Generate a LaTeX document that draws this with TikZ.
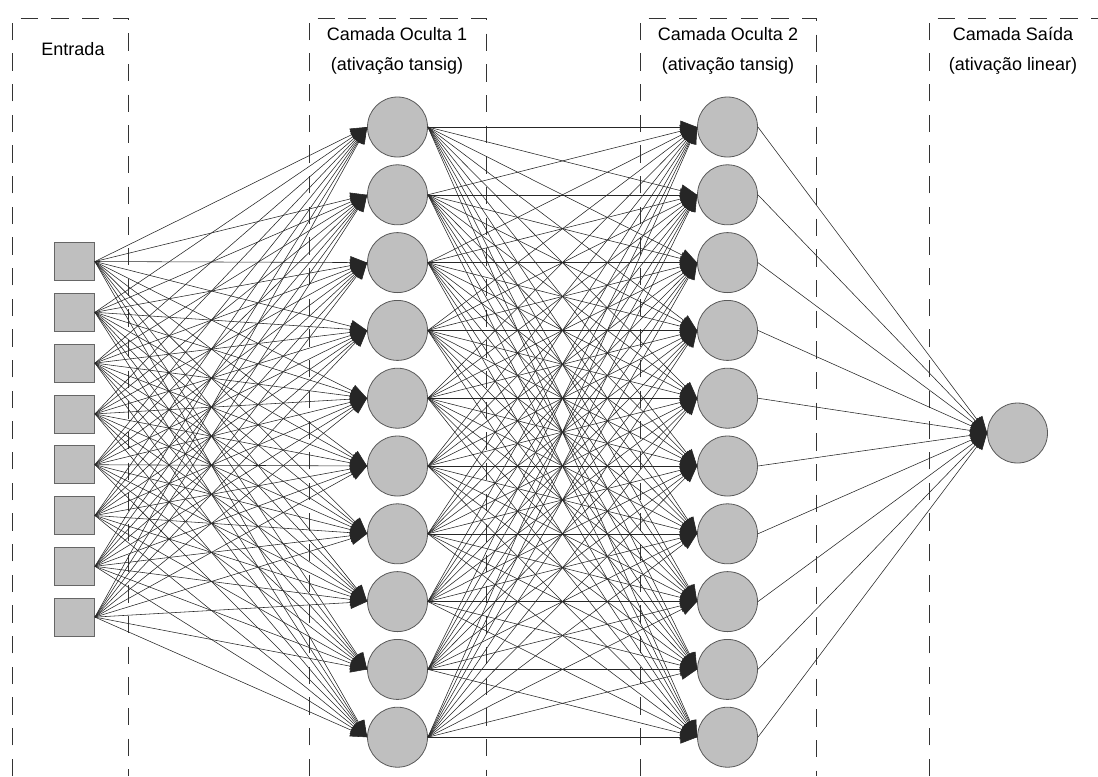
\documentclass[tikz,border=0pt]{standalone}
\usepackage{fontspec}
\setmainfont{Liberation Sans}
\usetikzlibrary{arrows.meta}

\tikzset{
	camada/.style = {
		draw = black!80,
		line width = 0.7pt,
		dash pattern = on 13pt off 10pt,
	},
	quadrado/.style = {
		draw = black!60,
		fill = gray!50,
		line width = 0.6pt,
		minimum width = 30pt,
		minimum height = 28.5pt,
		inner sep = 0pt,
	},
	neuronio/.style = {
		circle,
		draw = black!65,
		fill = gray!50,
		line width = 0.6pt,
		minimum size = 45pt,
		inner sep = 0pt,
	},
	peso/.style = {
		draw = black!85,
		line width = 0.42pt,
		-{Triangle[length = 12.5pt, width = 9.5pt]},
	},
	titulo/.style = {
		align = center,
		font = \fontsize{13.5}{22.5}\selectfont,
	},
}

\begin{document}
\begin{tikzpicture}[x = 0.75pt, y = -0.75pt]
	
	\useasboundingbox (0,0) rectangle (1098,776);
	
	% caixas das camadas
	\draw[camada] (12,776) -- (12,18) -- (128,18) -- (128,776);
	\draw[camada] (309,776) -- (309,18) -- (486,18) -- (486,776);
	\draw[camada] (640,776) -- (640,18) -- (816,18) -- (816,776);
	\draw[camada] (929,776) -- (929,18) -- (1098,18);
	
	\node[titulo] (tit-entrada) at (73,49) {Entrada};
	\node[titulo] (tit-oculta1) at (397,51) {Camada Oculta 1\\(ativação tansig)};
	\node[titulo] (tit-oculta2) at (728,51) {Camada Oculta 2\\(ativação tansig)};
	\node[titulo] (tit-saida) at (1013,51) {Camada Saída\\(ativação linear)};
	
	% neuronios
	\foreach \i in {1,...,8}
		\node[quadrado, name = inp-\i] at (74.5,{261.5 + 50.8*(\i-1)}) {};
	
	\foreach \j in {1,...,10} {
		\node[neuronio, name = hida-\j] at (397.5,{127 + 67.8*(\j-1)}) {};
		\node[neuronio, name = hidb-\j] at (727.5,{127 + 67.8*(\j-1)}) {};
	}
	
	\node[neuronio, name = out] at (1017.5,433) {};
	
	% ligacoes
	\foreach \i in {1,...,8}
		\foreach \j in {1,...,10}
			\draw[peso] (inp-\i.east) -- (hida-\j.west);
	
	\foreach \i in {1,...,10}
		\foreach \j in {1,...,10}
			\draw[peso] (hida-\i.east) -- (hidb-\j.west);
	
	\foreach \i in {1,...,10}
		\draw[peso] (hidb-\i.east) -- (out.west);
	
\end{tikzpicture}
\end{document}
